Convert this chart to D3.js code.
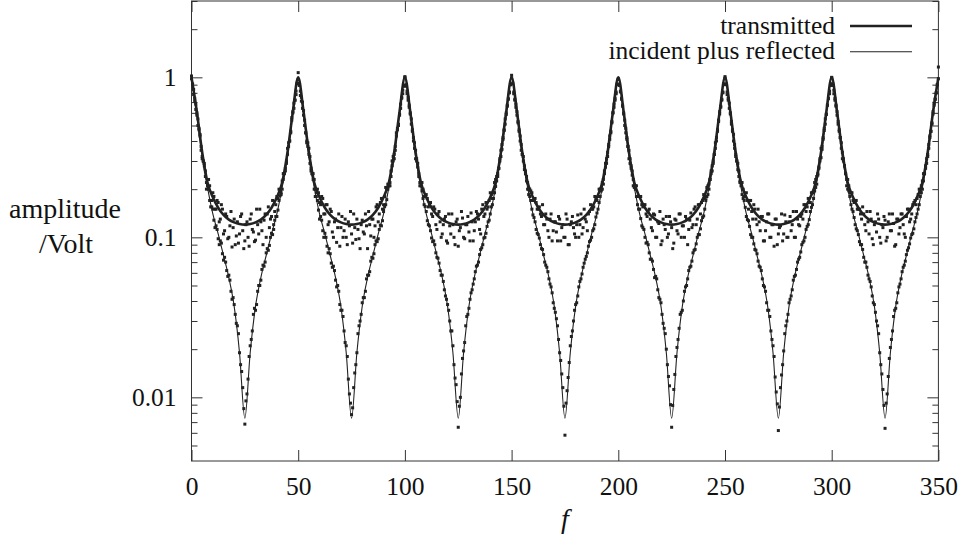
<!DOCTYPE html>
<html>
<head>
<meta charset="utf-8">
<script src="https://cdn.jsdelivr.net/npm/d3@7"></script>
<style>
  body { margin: 0; background: #fff; }
  text { fill: #111; }
</style>
</head>
<body>
<svg id="chart"></svg>
<script>
// tick values
const xTicks = [0, 50, 100, 150, 200, 250, 300, 350];
const yMajorTicks = [0.01, 0.1, 1];
const yMinorTicks = [0.005, 0.006, 0.007, 0.008, 0.009,
                     0.02, 0.03, 0.04, 0.05, 0.06, 0.07, 0.08, 0.09,
                     0.2, 0.3, 0.4, 0.5, 0.6, 0.7, 0.8, 0.9, 2, 3];

// smooth curves, read every 2.5 in f
const curveStep = 2.5;
const transmittedCurve = [
  1.0,.61,.34,.22,.178,.153,.138,.129,.124,.121,.12,.121,.124,.129,.138,.153,.178,.22,.34,.61,
  1.0,.61,.34,.22,.178,.153,.138,.129,.124,.121,.12,.121,.124,.129,.138,.153,.178,.22,.34,.61,
  1.0,.61,.34,.22,.178,.153,.138,.129,.124,.121,.12,.121,.124,.129,.138,.153,.178,.22,.34,.61,
  1.0,.61,.34,.22,.178,.153,.138,.129,.124,.121,.12,.121,.124,.129,.138,.153,.178,.22,.34,.61,
  1.0,.61,.34,.22,.178,.153,.138,.129,.124,.121,.12,.121,.124,.129,.138,.153,.178,.22,.34,.61,
  1.0,.61,.34,.22,.178,.153,.138,.129,.124,.121,.12,.121,.124,.129,.138,.153,.178,.22,.34,.61,
  1.0,.61,.34,.22,.178,.153,.138,.129,.124,.121,.12,.121,.124,.129,.138,.153,.178,.22,.34,.61,
  1.0
];
const incRefCurve = [
  1.0,.6,.32,.205,.14,.105,.077,.056,.037,.019,.0074,.019,.037,.056,.077,.105,.14,.205,.32,.6,
  1.0,.6,.32,.205,.14,.105,.077,.056,.037,.019,.0074,.019,.037,.056,.077,.105,.14,.205,.32,.6,
  1.0,.6,.32,.205,.14,.105,.077,.056,.037,.019,.0074,.019,.037,.056,.077,.105,.14,.205,.32,.6,
  1.0,.6,.32,.205,.14,.105,.077,.056,.037,.019,.0074,.019,.037,.056,.077,.105,.14,.205,.32,.6,
  1.0,.6,.32,.205,.14,.105,.077,.056,.037,.019,.0074,.019,.037,.056,.077,.105,.14,.205,.32,.6,
  1.0,.6,.32,.205,.14,.105,.077,.056,.037,.019,.0074,.019,.037,.056,.077,.105,.14,.205,.32,.6,
  1.0,.6,.32,.205,.14,.105,.077,.056,.037,.019,.0074,.019,.037,.056,.077,.105,.14,.205,.32,.6,
  1.0
];

// measured points at whole f (0..350)
const measTransmitted = [
  .98,.84,.63,.55,.44,.32,.29,.22,.23,.17,.19,.15,.17,.125,.16,.105,.14,.098,.118,.087,.13,.102,.092,.135,.11,.095,.125,.088,.14,.108,.096,.12,.15,.11,.128,.1,.155,.13,.17,.145,.18,.2,.19,.25,.27,.36,.4,.56,.69,.78,
  1.07,.77,.7,.5,.39,.36,.27,.25,.2,.2,.165,.18,.14,.16,.12,.15,.108,.125,.093,.14,.115,.1,.13,.09,.118,.105,.14,.097,.112,.085,.128,.105,.118,.145,.102,.13,.118,.16,.14,.175,.16,.205,.215,.22,.3,.33,.45,.51,.64,.83,
  1.0,.82,.65,.55,.4,.35,.29,.22,.22,.18,.185,.155,.165,.135,.15,.112,.145,.1,.12,.135,.092,.118,.14,.1,.125,.088,.115,.132,.098,.12,.108,.142,.095,.125,.14,.112,.15,.135,.165,.155,.19,.175,.22,.24,.27,.35,.41,.55,.66,.81,
  1.03,.79,.68,.52,.43,.33,.28,.24,.2,.195,.17,.175,.15,.155,.135,.12,.14,.11,.13,.095,.125,.108,.135,.095,.12,.1,.13,.09,.125,.115,.1,.138,.12,.105,.15,.125,.14,.16,.15,.18,.17,.2,.2,.23,.29,.34,.43,.52,.68,.79,
  .97,.81,.66,.54,.41,.35,.27,.23,.21,.18,.18,.16,.16,.14,.145,.13,.11,.138,.1,.122,.09,.13,.112,.1,.135,.115,.092,.128,.105,.14,.118,.1,.13,.112,.142,.12,.155,.13,.16,.165,.185,.18,.21,.23,.28,.33,.42,.54,.66,.8,
  1.01,.78,.69,.51,.44,.32,.29,.22,.22,.18,.19,.15,.17,.13,.15,.12,.125,.135,.095,.11,.14,.1,.12,.088,.13,.105,.118,.095,.138,.1,.125,.11,.145,.1,.13,.118,.14,.16,.145,.175,.165,.19,.22,.24,.27,.36,.41,.55,.67,.82,
  .99,.83,.66,.53,.42,.34,.28,.23,.21,.19,.17,.17,.15,.15,.13,.14,.11,.125,.145,.098,.12,.108,.13,.092,.115,.128,.1,.14,.11,.122,.09,.13,.115,.14,.105,.135,.15,.13,.16,.17,.175,.2,.21,.25,.28,.33,.43,.52,.69,.8,
  1.16
];
const measIncRef = [
  1.02,.78,.68,.5,.43,.31,.28,.2,.2,.155,.15,.115,.112,.09,.092,.072,.07,.057,.054,.041,.038,.029,.025,.016,.0115,.0068,.0105,.018,.023,.033,.035,.046,.05,.063,.066,.08,.083,.1,.104,.128,.135,.17,.185,.23,.26,.33,.4,.54,.64,.82,
  .97,.82,.64,.54,.4,.33,.26,.23,.18,.17,.13,.128,.1,.1,.08,.079,.065,.062,.049,.046,.035,.032,.022,.018,.0105,.0078,.0115,.016,.025,.03,.039,.042,.055,.058,.071,.074,.09,.094,.112,.118,.145,.16,.2,.21,.28,.31,.43,.5,.68,.79,
  1.01,.79,.67,.51,.42,.31,.275,.21,.195,.16,.145,.12,.11,.094,.09,.075,.069,.058,.053,.043,.038,.03,.026,.016,.012,.0065,.01,.0175,.022,.032,.036,.045,.051,.061,.067,.078,.086,.099,.106,.125,.14,.16,.19,.225,.27,.32,.42,.51,.67,.8,
  .99,.81,.65,.53,.4,.33,.265,.225,.185,.17,.138,.125,.106,.099,.085,.078,.067,.061,.051,.045,.036,.031,.023,.017,.0115,.0058,.011,.0165,.024,.03,.038,.043,.053,.059,.069,.076,.088,.096,.11,.12,.142,.165,.195,.215,.275,.32,.41,.53,.65,.81,
  .98,.82,.67,.5,.42,.31,.28,.21,.2,.16,.15,.118,.112,.092,.09,.073,.071,.056,.055,.042,.039,.029,.025,.016,.0118,.0065,.0112,.018,.023,.033,.035,.046,.05,.062,.066,.08,.084,.1,.104,.127,.136,.17,.185,.23,.26,.33,.4,.53,.65,.81,
  .99,.81,.64,.53,.4,.33,.265,.225,.185,.17,.135,.127,.104,.1,.084,.079,.066,.062,.05,.046,.035,.032,.023,.018,.0108,.0062,.0115,.016,.025,.03,.039,.043,.054,.058,.07,.075,.09,.095,.112,.12,.145,.16,.195,.215,.275,.315,.42,.51,.67,.79,
  1.0,.79,.67,.51,.42,.31,.28,.21,.195,.16,.145,.12,.11,.094,.09,.075,.07,.058,.053,.043,.038,.03,.025,.016,.0112,.0064,.0105,.0175,.023,.032,.036,.045,.051,.061,.067,.078,.086,.099,.106,.125,.14,.16,.19,.225,.27,.32,.42,.51,.67,.8,
  .98
];

// measured points at half f (0.5..349.5)
const measTransmittedHalf = [
  .9,.74,.58,.48,.37,.3,.26,.21,.21,.17,.18,.15,.165,.13,.15,.11,.135,.1,.145,.115,.09,.125,.105,.14,.085,.12,.1,.13,.112,.094,.15,.105,.125,.09,.14,.14,.115,.135,.12,.16,.175,.195,.225,.25,.3,.39,.46,.61,.72,.91,
  .92,.71,.62,.45,.39,.32,.25,.23,.19,.19,.16,.175,.14,.16,.125,.145,.1,.13,.115,.088,.135,.11,.1,.125,.145,.092,.115,.13,.098,.12,.108,.14,.085,.12,.13,.1,.155,.125,.165,.15,.18,.2,.21,.26,.32,.37,.48,.59,.75,.88,
  .88,.75,.59,.47,.39,.31,.25,.22,.2,.18,.175,.16,.14,.155,.12,.14,.125,.105,.13,.095,.14,.105,.12,.09,.13,.11,.145,.1,.12,.135,.095,.125,.11,.145,.13,.105,.16,.14,.15,.17,.185,.19,.23,.25,.31,.38,.47,.6,.73,.9,
  .91,.72,.61,.46,.38,.32,.26,.22,.2,.19,.17,.165,.15,.14,.16,.12,.13,.1,.14,.11,.125,.095,.13,.115,.1,.14,.09,.12,.135,.105,.12,.1,.14,.115,.13,.11,.145,.15,.155,.175,.18,.2,.22,.26,.31,.38,.46,.6,.74,.9,
  .89,.73,.6,.48,.37,.31,.26,.21,.21,.18,.18,.155,.16,.135,.15,.115,.14,.1,.125,.145,.095,.12,.135,.105,.125,.085,.13,.11,.14,.1,.118,.135,.09,.128,.115,.15,.12,.16,.14,.17,.175,.205,.215,.26,.3,.39,.47,.61,.72,.91,
  .9,.74,.59,.47,.38,.3,.26,.22,.2,.18,.17,.17,.145,.16,.13,.15,.11,.135,.095,.125,.14,.1,.12,.13,.09,.115,.14,.105,.125,.1,.135,.12,.1,.145,.12,.135,.13,.16,.155,.165,.19,.19,.23,.25,.31,.37,.48,.59,.74,.89,
  .91,.72,.61,.46,.39,.31,.25,.23,.19,.19,.165,.17,.15,.14,.155,.12,.145,.105,.13,.09,.125,.14,.1,.12,.135,.095,.125,.11,.14,.088,.13,.105,.14,.12,.1,.15,.125,.14,.165,.16,.185,.195,.225,.25,.31,.38,.46,.61,.73,.9
];
const measIncRefHalf = [
  .91,.71,.6,.47,.35,.3,.24,.21,.17,.155,.128,.118,.098,.095,.079,.075,.062,.058,.046,.042,.033,.028,.019,.0145,.0085,.0095,.013,.021,.026,.036,.038,.05,.054,.067,.07,.085,.089,.106,.112,.135,.148,.182,.2,.25,.29,.37,.45,.6,.72,.92,
  .89,.75,.58,.45,.37,.29,.25,.2,.18,.148,.135,.11,.106,.088,.085,.069,.066,.054,.05,.038,.035,.026,.021,.013,.0092,.0086,.0142,.019,.028,.033,.042,.046,.058,.061,.075,.079,.095,.098,.119,.127,.156,.172,.21,.24,.3,.35,.47,.58,.74,.89,
  .9,.72,.6,.46,.36,.3,.24,.21,.175,.156,.127,.118,.099,.095,.08,.074,.062,.058,.047,.041,.035,.026,.021,.0132,.0094,.0088,.014,.0195,.028,.033,.041,.047,.055,.066,.07,.084,.09,.1,.117,.128,.155,.175,.208,.24,.3,.355,.465,.585,.735,.9,
  .92,.73,.58,.47,.35,.3,.25,.2,.18,.15,.133,.112,.104,.09,.084,.07,.065,.055,.049,.039,.034,.028,.019,.014,.0088,.0092,.0133,.021,.026,.035,.039,.049,.055,.065,.073,.08,.094,.1,.113,.134,.15,.18,.2,.25,.29,.37,.45,.6,.72,.91,
  .9,.74,.59,.45,.37,.29,.245,.205,.18,.15,.131,.115,.1,.093,.08,.073,.063,.057,.047,.041,.033,.027,.02,.0135,.009,.0089,.0139,.0205,.027,.034,.04,.049,.055,.065,.071,.083,.091,.104,.113,.133,.15,.18,.2,.25,.29,.36,.46,.59,.73,.9,
  .91,.72,.6,.46,.36,.3,.24,.21,.175,.154,.129,.117,.1,.091,.083,.071,.065,.055,.049,.039,.035,.026,.021,.0134,.0091,.0087,.0138,.0195,.028,.033,.041,.047,.057,.063,.073,.081,.093,.1,.117,.129,.154,.175,.205,.245,.3,.355,.465,.585,.735,.91,
  .89,.74,.58,.47,.36,.3,.25,.2,.18,.15,.133,.113,.104,.09,.084,.07,.065,.055,.049,.039,.034,.028,.019,.014,.0089,.0092,.0135,.0205,.026,.035,.039,.049,.055,.065,.071,.083,.091,.104,.113,.133,.15,.18,.2,.25,.29,.36,.46,.59,.73,.9
];

const seriesNames = ["transmitted", "incident plus reflected"];

let width = 963;
let height = 546;
let margin = {top: 1, right: 24.6, bottom: 85, left: 191.5};
let ink = "#222";
let serif = "Liberation Serif";

let svg = d3.select("#chart")
            .attr("width", width)
            .attr("height", height);

let xScale = d3.scaleLinear()
               .domain([0, 350])
               .range([margin.left, width - margin.right]);

let yScale = d3.scaleLog()
               .domain([0.004, 3])
               .range([height - margin.bottom, margin.top]);

let x0 = margin.left, x1 = width - margin.right;
let y0 = height - margin.bottom, y1 = margin.top;

// axes: ticks point inward on all four sides
function styleAxis(g) {
  g.attr("font-family", serif);
  g.select(".domain").remove();
  g.selectAll(".tick line").attr("stroke", "#333").attr("stroke-width", 1);
  g.selectAll(".tick text").attr("font-size", 25.5).attr("fill", "#111");
}

svg.append("g")
   .attr("transform", "translate(0," + y0 + ")")
   .call(d3.axisBottom(xScale).tickValues(xTicks).tickSize(-11).tickPadding(16))
   .call(styleAxis);

svg.append("g")
   .attr("transform", "translate(0," + y1 + ")")
   .call(d3.axisTop(xScale).tickValues(xTicks).tickSize(-11).tickFormat(""))
   .call(styleAxis);

svg.append("g")
   .attr("transform", "translate(" + x0 + ",0)")
   .call(d3.axisLeft(yScale).tickValues(yMajorTicks).tickSize(-11).tickPadding(15).tickFormat(d => String(d)))
   .call(styleAxis);

svg.append("g")
   .attr("transform", "translate(" + x0 + ",0)")
   .call(d3.axisLeft(yScale).tickValues(yMinorTicks).tickSize(-6).tickFormat(""))
   .call(styleAxis);

svg.append("g")
   .attr("transform", "translate(" + x1 + ",0)")
   .call(d3.axisRight(yScale).tickValues(yMajorTicks).tickSize(-11).tickFormat(""))
   .call(styleAxis);

svg.append("g")
   .attr("transform", "translate(" + x1 + ",0)")
   .call(d3.axisRight(yScale).tickValues(yMinorTicks).tickSize(-6).tickFormat(""))
   .call(styleAxis);

svg.append("rect")
   .attr("x", x0)
   .attr("y", y1)
   .attr("width", x1 - x0)
   .attr("height", y0 - y1)
   .attr("fill", "none")
   .attr("stroke", "#333")
   .attr("stroke-width", 1);

// axis titles
svg.append("text")
   .attr("x", 65)
   .attr("y", 218)
   .attr("text-anchor", "middle")
   .attr("font-size", 28)
   .attr("font-family", serif)
   .text("amplitude");

svg.append("text")
   .attr("x", 66)
   .attr("y", 253)
   .attr("text-anchor", "middle")
   .attr("font-size", 28)
   .attr("font-family", serif)
   .text("/Volt");

svg.append("text")
   .attr("x", (x0 + x1) / 2)
   .attr("y", 528)
   .attr("text-anchor", "middle")
   .attr("font-size", 28)
   .attr("font-style", "italic")
   .attr("font-family", serif)
   .text("f");

// curves
let curveLine = d3.line()
                  .x((d, i) => xScale(i * curveStep))
                  .y(d => yScale(d))
                  .curve(d3.curveMonotoneX);

svg.append("path")
   .datum(transmittedCurve)
   .attr("d", curveLine)
   .attr("fill", "none")
   .attr("stroke", ink)
   .attr("stroke-width", 2.6);

svg.append("path")
   .datum(incRefCurve)
   .attr("d", curveLine)
   .attr("fill", "none")
   .attr("stroke", ink)
   .attr("stroke-width", 1.1);

// measured points
[[measTransmitted, 0], [measIncRef, 0], [measTransmittedHalf, 0.5], [measIncRefHalf, 0.5]].forEach(([values, shift]) => {
  svg.append("g")
     .selectAll("rect")
     .data(values)
     .enter()
     .append("rect")
       .attr("x", (d, i) => xScale(i + shift) - 1.5)
       .attr("y", d => yScale(d) - 1.5)
       .attr("width", 3)
       .attr("height", 3)
       .attr("fill", ink);
});

// legend
let legend = svg.append("g");
seriesNames.forEach((name, i) => {
  let ly = 26 + i * 25.7;
  legend.append("text")
        .attr("x", 835)
        .attr("y", ly)
        .attr("dy", "0.3em")
        .attr("text-anchor", "end")
        .attr("font-size", 25.5)
        .attr("font-family", serif)
        .text(name);
  legend.append("line")
        .attr("x1", 850)
        .attr("x2", 912)
        .attr("y1", ly)
        .attr("y2", ly)
        .attr("stroke", ink)
        .attr("stroke-width", i === 0 ? 2.6 : 1.1);
});
</script>
</body>
</html>
